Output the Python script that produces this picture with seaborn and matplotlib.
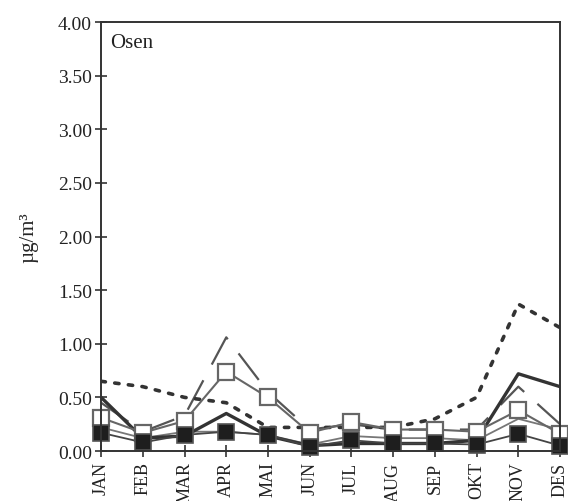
import matplotlib
matplotlib.use("Agg")
import matplotlib.pyplot as plt
import seaborn as sns
import pandas as pd

months = ["JAN", "FEB", "MAR", "APR", "MAI", "JUN",
          "JUL", "AUG", "SEP", "OKT", "NOV", "DES"]

# Monthly mean concentrations (µg/m³) at Osen
dotted_series = [0.65, 0.60, 0.50, 0.45, 0.22, 0.22, 0.22, 0.22, 0.30, 0.50, 1.37, 1.15]
longdash_series = [0.45, 0.18, 0.33, 1.06, 0.55, 0.20, 0.25, 0.20, 0.20, 0.20, 0.60, 0.25]
thick_series = [0.50, 0.12, 0.14, 0.35, 0.14, 0.05, 0.07, 0.07, 0.07, 0.10, 0.72, 0.60]
thin_series = [0.22, 0.12, 0.18, 0.18, 0.15, 0.06, 0.14, 0.12, 0.12, 0.10, 0.30, 0.20]
open_sq_series = [0.31, 0.17, 0.28, 0.74, 0.50, 0.17, 0.27, 0.20, 0.20, 0.18, 0.38, 0.16]
filled_sq_series = [0.17, 0.08, 0.15, 0.18, 0.15, 0.04, 0.10, 0.07, 0.07, 0.06, 0.16, 0.05]

y_ticks = [0.0, 0.5, 1.0, 1.5, 2.0, 2.5, 3.0, 3.5, 4.0]

sns.set_theme(style="white")
plt.rcParams["font.family"] = ["Liberation Serif", "DejaVu Serif"]

fig = plt.figure(figsize=(5.68, 5.02), dpi=100)
ax = fig.add_axes([0.178, 0.0996, 0.808, 0.8545])

idx = list(range(len(months)))
df = pd.DataFrame({
    "m": idx,
    "dotted": dotted_series,
    "longdash": longdash_series,
    "thick": thick_series,
    "thin": thin_series,
    "open": open_sq_series,
    "filled": filled_sq_series,
})

sns.lineplot(data=df, x="m", y="thin", ax=ax, color="#777777", lw=1.3)
sns.lineplot(data=df, x="m", y="longdash", ax=ax, color="#555555", lw=1.6,
             linestyle=(0, (15, 8)))
sns.lineplot(data=df, x="m", y="dotted", ax=ax, color="#333333", lw=2.6,
             linestyle=(0, (1.2, 2.6)), dash_capstyle="round")
sns.lineplot(data=df, x="m", y="thick", ax=ax, color="#333333", lw=2.4)
sns.lineplot(data=df, x="m", y="open", ax=ax, color="#666666", lw=1.5,
             marker="s", markersize=12, markerfacecolor="white",
             markeredgecolor="#666666", markeredgewidth=1.6, clip_on=False)
sns.lineplot(data=df, x="m", y="filled", ax=ax, color="#444444", lw=1.3,
             marker="s", markersize=11, markerfacecolor="#1e1e1e",
             markeredgecolor="#555555", markeredgewidth=1.2, clip_on=False)

ax.set_xlim(0, 11)
ax.set_ylim(0, 4)
ax.set_xticks(idx)
ax.set_xticklabels(months, rotation=90, fontsize=13, va="top")
ax.set_yticks(y_ticks)
ax.set_yticklabels([f"{v:.2f}" for v in y_ticks], fontsize=14)
ax.set_xlabel("")
ax.set_ylabel("µg/m³", fontsize=15, labelpad=14)

ax.tick_params(axis="both", direction="inout", length=9, width=1.2,
               color="#333333", labelcolor="#222222", left=True, bottom=True)
ax.tick_params(axis="x", pad=3)
ax.tick_params(axis="y", pad=2)

for sp in ax.spines.values():
    sp.set_visible(True)
    sp.set_color("#333333")
    sp.set_linewidth(1.4)

ax.text(0.02, 0.975, "Osen", transform=ax.transAxes, fontsize=15,
        ha="left", va="top", color="#222222")

fig.savefig("out.png", dpi=100)
